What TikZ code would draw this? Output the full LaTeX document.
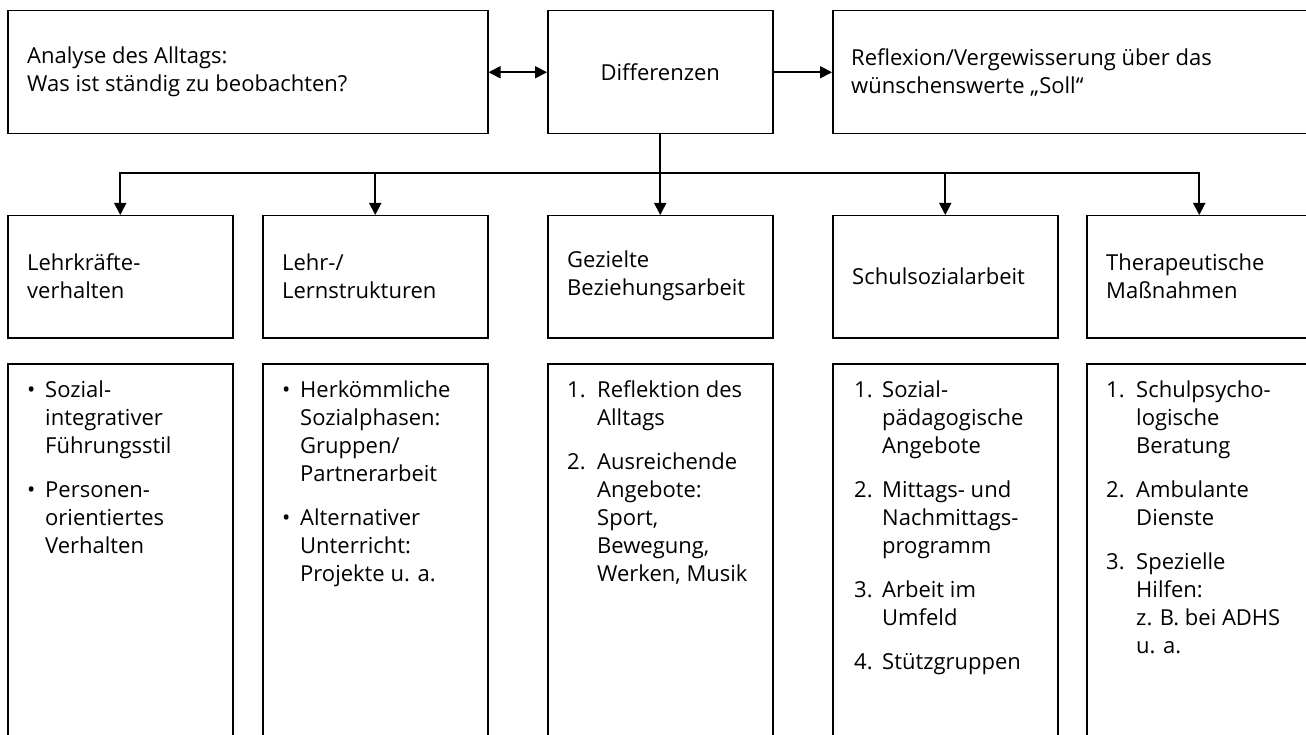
\documentclass[tikz,border=0pt]{standalone}
\usepackage{fontspec}
\setmainfont{Open Sans}
\usetikzlibrary{arrows.meta}
\begin{document}
\begin{tikzpicture}[x=1pt,y=-1pt,
  every node/.style={font=\fontsize{22}{28}\selectfont},
  box/.style={draw, line width=1.5pt, rectangle, inner sep=0pt, anchor=north west, minimum height=#1},
  box/.default=123pt,
  txt/.style={anchor=west, align=left, inner sep=0pt},
  lst/.style={anchor=base west, inner sep=0pt},
  conn/.style={line width=1.8pt, -{Triangle[length=12pt,width=12pt]}},
  dconn/.style={line width=1.8pt, {Triangle[length=12pt,width=12pt]}-{Triangle[length=12pt,width=12pt]}}
]
\useasboundingbox (0,0) rectangle (1306,735);
\clip (0,0) rectangle (1306,735);
% top row
\node[box, minimum width=480pt] (A) at (7,10) {};
\node[box, minimum width=225pt] (D) at (547,10) {};
\node[box, minimum width=500pt] (R) at (832,10) {};
\node[txt] (At) at (27,72) {Analyse des Alltags:\\Was ist ständig zu beobachten?};
\node[inner sep=0pt] (Dt) at (D.center) {Differenzen};
\node[txt] (Rt) at (851,72) {Reflexion/Vergewisserung über das\\wünschenswerte „Soll“};
% second row
\node[box=122pt, minimum width=225pt] (b1) at (7,215) {};
\node[box=122pt, minimum width=225pt] (b2) at (262,215) {};
\node[box=122pt, minimum width=225pt] (b3) at (547,215) {};
\node[box=122pt, minimum width=225pt] (b4) at (832,215) {};
\node[box=122pt, minimum width=225pt] (b5) at (1086,215) {};
\node[txt] (b1t) at (27,276) {Lehrkräfte-\\verhalten};
\node[txt] (b2t) at (282,276) {Lehr-/\\Lernstrukturen};
\node[txt] (b3t) at (567,276) {Gezielte\\Beziehungsarbeit};
\node[txt] (b4t) at (852,276) {Schulsozialarbeit};
\node[txt] (b5t) at (1106,276) {Therapeutische\\Maßnahmen};
% third row
\node[box=420pt, minimum width=225pt] (c1) at (7,363) {};
\node[box=420pt, minimum width=225pt] (c2) at (262,363) {};
\node[box=420pt, minimum width=225pt] (c3) at (547,363) {};
\node[box=420pt, minimum width=225pt] (c4) at (832,363) {};
\node[box=420pt, minimum width=225pt] (c5) at (1086,363) {};
\node[lst] (c1t) at (27,397) {\begin{tabular}[t]{@{}p{18pt}@{}l@{}}
•&Sozial-\\
&integrativer\\
&Führungsstil\\[16pt]
•&Personen-\\
&orientiertes\\
&Verhalten
\end{tabular}};
\node[lst] (c2t) at (282,397) {\begin{tabular}[t]{@{}p{18pt}@{}l@{}}
•&Herkömmliche\\
&Sozialphasen:\\
&Gruppen/\\
&Partnerarbeit\\[16pt]
•&Alternativer\\
&Unterricht:\\
&Projekte u. a.
\end{tabular}};
\node[lst] (c3t) at (567,397) {\begin{tabular}[t]{@{}p{30pt}@{}l@{}}
1.&Reflektion des\\
&Alltags\\[16pt]
2.&Ausreichende\\
&Angebote:\\
&Sport,\\
&Bewegung,\\
&Werken, Musik
\end{tabular}};
\node[lst] (c4t) at (854,397) {\begin{tabular}[t]{@{}p{28pt}@{}l@{}}
1.&Sozial-\\
&pädagogische\\
&Angebote\\[16pt]
2.&Mittags- und\\
&Nachmittags-\\
&programm\\[16pt]
3.&Arbeit im\\
&Umfeld\\[16pt]
4.&Stützgruppen
\end{tabular}};
\node[lst] (c5t) at (1106,397) {\begin{tabular}[t]{@{}p{30pt}@{}l@{}}
1.&Schulpsycho-\\
&logische\\
&Beratung\\[16pt]
2.&Ambulante\\
&Dienste\\[16pt]
3.&Spezielle\\
&Hilfen:\\
&z. B. bei ADHS\\
&u. a.
\end{tabular}};
% connectors
\coordinate (bus) at (0,173);
\draw[dconn] (A.east) -- (D.west);
\draw[conn] (D.east) -- (R.west);
\draw[conn] (D.south) -- (D.south |- b3.north);
\draw[line width=1.8pt, line cap=rect] (b1.north |- bus) -- (b5.north |- bus);
\draw[conn] (b1.north |- bus) -- (b1.north);
\draw[conn] (b2.north |- bus) -- (b2.north);
\draw[conn] (b4.north |- bus) -- (b4.north);
\draw[conn] (b5.north |- bus) -- (b5.north);
\end{tikzpicture}
\end{document}
